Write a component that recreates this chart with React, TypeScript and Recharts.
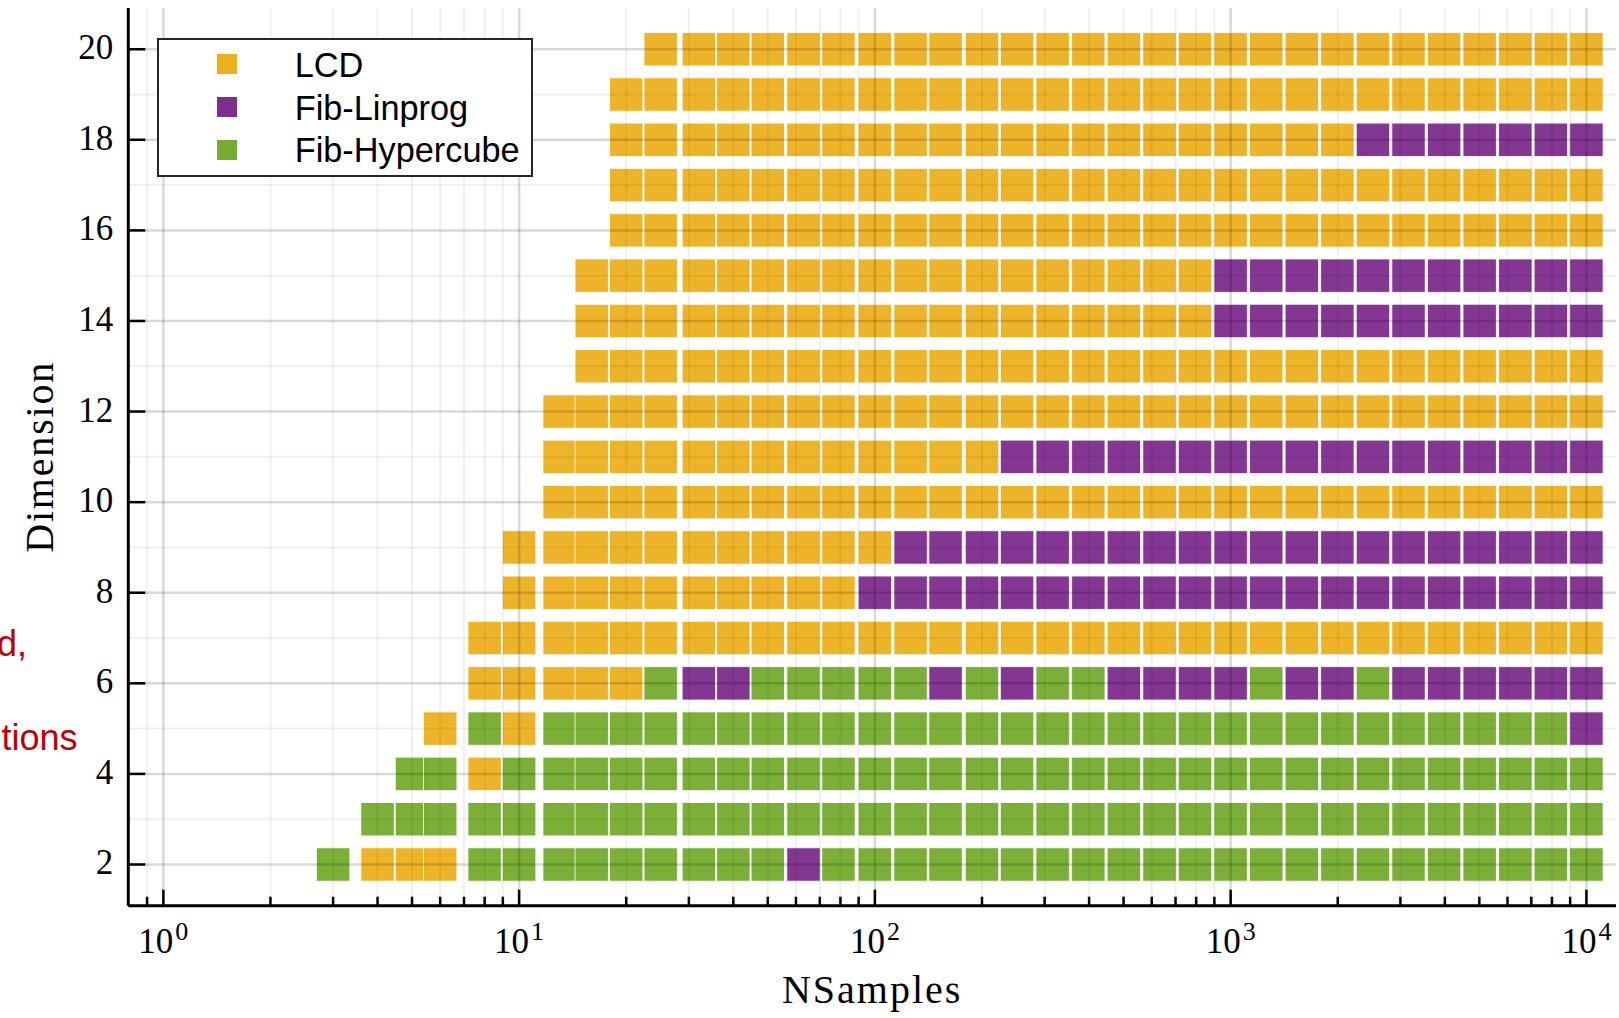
import React from 'react';
import { ScatterChart, Scatter, XAxis, YAxis, ReferenceLine } from 'recharts';

// sample counts on the log axis (rounded 10^(k/10))
const nSamples = [
  3, 4, 5, 6, 8,
  10, 13, 16, 20, 25, 32, 40, 50, 63, 79,
  100, 126, 158, 200, 251, 316, 398, 501, 631, 794,
  1000, 1259, 1585, 1995, 2512, 3162, 3981, 5012, 6310, 7943,
  10000,
];

const dimensions = [2, 3, 4, 5, 6, 7, 8, 9, 10, 11, 12, 13, 14, 15, 16, 17, 18, 19, 20];

// fastest method per (dimension, nSamples): L = LCD, P = Fib-Linprog, H = Fib-Hypercube, . = not run
// groups: <10 | 10..79 | 100..794 | 1000..7943 | 10000
const bestMethod = [
  'HLLLH HHHHHHHHPH HHHHHHHHHH HHHHHHHHHH H', // 2
  '.HHHH HHHHHHHHHH HHHHHHHHHH HHHHHHHHHH H', // 3
  '..HHL HHHHHHHHHH HHHHHHHHHH HHHHHHHHHH H', // 4
  '...LH LHHHHHHHHH HHHHHHHHHH HHHHHHHHHH P', // 5
  '....L LLLLHPPHHH HHPHPHHPPP PHPPHPPPPP P', // 6
  '....L LLLLLLLLLL LLLLLLLLLL LLLLLLLLLL L', // 7
  '..... LLLLLLLLLL PPPPPPPPPP PPPPPPPPPP P', // 8
  '..... LLLLLLLLLL LPPPPPPPPP PPPPPPPPPP P', // 9
  '..... .LLLLLLLLL LLLLLLLLLL LLLLLLLLLL L', // 10
  '..... .LLLLLLLLL LLLLPPPPPP PPPPPPPPPP P', // 11
  '..... .LLLLLLLLL LLLLLLLLLL LLLLLLLLLL L', // 12
  '..... ..LLLLLLLL LLLLLLLLLL LLLLLLLLLL L', // 13
  '..... ..LLLLLLLL LLLLLLLLLL PPPPPPPPPP P', // 14
  '..... ..LLLLLLLL LLLLLLLLLL PPPPPPPPPP P', // 15
  '..... ...LLLLLLL LLLLLLLLLL LLLLLLLLLL L', // 16
  '..... ...LLLLLLL LLLLLLLLLL LLLLLLLLLL L', // 17
  '..... ...LLLLLLL LLLLLLLLLL LLLLPPPPPP P', // 18
  '..... ...LLLLLLL LLLLLLLLLL LLLLLLLLLL L', // 19
  '..... ....LLLLLL LLLLLLLLLL LLLLLLLLLL L', // 20
];

const methods = [
  { key: 'L', name: 'LCD', color: '#EDB120' },
  { key: 'P', name: 'Fib-Linprog', color: '#7E2F8E' },
  { key: 'H', name: 'Fib-Hypercube', color: '#77AC30' },
];

const xMajorTicks = [1, 10, 100, 1000, 10000];
const xMinorTicks = [
  0.9,
  2, 3, 4, 5, 6, 7, 8, 9,
  20, 30, 40, 50, 60, 70, 80, 90,
  200, 300, 400, 500, 600, 700, 800, 900,
  2000, 3000, 4000, 5000, 6000, 7000, 8000, 9000,
];
const yMajorTicks = [2, 4, 6, 8, 10, 12, 14, 16, 18, 20];
const yMinorTicks = [3, 5, 7, 9, 11, 13, 15, 17, 19];

const SERIF = '"Liberation Serif", "Times New Roman", serif';
const SANS = '"Liberation Sans", Arial, sans-serif';
const CELL = 33.4;

const cellsFor = (key: string) =>
  dimensions.flatMap((dim, r) => {
    const row = bestMethod[r].replace(/ /g, '');
    return nSamples.flatMap((n, i) => (row[i] === key ? [{ n, dim }] : []));
  });

const squareMarker = (color: string) => (props: any) => (
  <rect
    x={props.cx - CELL / 2}
    y={props.cy - CELL / 2}
    width={CELL}
    height={CELL}
    fill={color}
    fillOpacity={0.96}
    stroke="#fff"
    strokeWidth={1}
    strokeOpacity={0.8}
  />
);

const XTick = (props: any) => {
  const { x, y, payload } = props;
  const major = xMajorTicks.includes(payload.value);
  return (
    <g>
      <line x1={x} x2={x} y1={y} y2={y - (major ? 16 : 9)} stroke="#000" strokeWidth={2.5} />
      {major && (
        <text x={x} y={y + 47} textAnchor="middle" fontFamily={SERIF} fontSize={35} fill="#000">
          <tspan>10</tspan>
          <tspan dx={2} dy={-12.7} fontSize={26}>
            {Math.round(Math.log10(payload.value))}
          </tspan>
        </text>
      )}
    </g>
  );
};

const YTick = (props: any) => {
  const { x, y, payload } = props;
  return (
    <g>
      <line x1={x} x2={x + 17} y1={y} y2={y} stroke="#000" strokeWidth={2.5} />
      <text x={x - 15} y={y + 10} textAnchor="end" fontFamily={SERIF} fontSize={35} fill="#000">
        {payload.value}
      </text>
    </g>
  );
};

const XTitle = (props: any) => {
  const vb = props.viewBox || { x: 128.3, y: 905.7, width: 1487.7 };
  return (
    <text
      x={vb.x + vb.width / 2}
      y={vb.y + 97}
      textAnchor="middle"
      fontFamily={SERIF}
      fontSize={40}
      style={{ letterSpacing: 2 }}
      fill="#000"
    >
      NSamples
    </text>
  );
};

const YTitle = (props: any) => {
  const vb = props.viewBox || { x: 0, y: 8, height: 897.7 };
  const px = vb.x + 53;
  const py = vb.y + vb.height / 2;
  return (
    <text
      x={px}
      y={py}
      transform={`rotate(-90 ${px} ${py})`}
      textAnchor="middle"
      fontFamily={SERIF}
      fontSize={40}
      style={{ letterSpacing: 1.8 }}
      fill="#000"
    >
      Dimension
    </text>
  );
};

const Legend = () => (
  <div
    style={{
      position: 'absolute',
      left: 157.3,
      top: 38.3,
      width: 376,
      height: 138.4,
      boxSizing: 'border-box',
      border: '2.3px solid #262626',
      background: '#fff',
      fontFamily: SANS,
      fontSize: 34.3,
      color: '#000',
    }}
  >
    {methods.map((m, i) => (
      <div key={m.key} style={{ position: 'absolute', left: 0, top: 4.6 + i * 42.8, height: 40, width: '100%' }}>
        <div
          style={{
            position: 'absolute',
            left: 57.7,
            top: 9.5,
            width: 20,
            height: 20,
            background: m.color,
          }}
        />
        <div style={{ position: 'absolute', left: 135.4, top: 0, lineHeight: '40px', whiteSpace: 'nowrap' }}>
          {m.name}
        </div>
      </div>
    ))}
  </div>
);

export default function App() {
  return (
    <div
      style={{
        position: 'absolute',
        left: 0,
        top: 0,
        width: 1619,
        height: 1018,
        background: '#fff',
        overflow: 'hidden',
      }}
    >
      <ScatterChart width={1619} height={1018} margin={{ top: 8, right: 3, left: 0, bottom: 0 }}>
        <XAxis
          type="number"
          dataKey="n"
          scale="log"
          domain={[0.797, 12110]}
          allowDataOverflow
          ticks={[...xMinorTicks, ...xMajorTicks]}
          interval={0}
          height={112.3}
          tickSize={0}
          tickMargin={0}
          tickLine={false}
          axisLine={{ stroke: '#000', strokeWidth: 3 }}
          tick={<XTick />}
          label={<XTitle />}
        />
        <YAxis
          type="number"
          dataKey="dim"
          domain={[1.09, 20.91]}
          allowDataOverflow
          ticks={yMajorTicks}
          interval={0}
          width={128.3}
          tickSize={0}
          tickMargin={0}
          tickLine={false}
          axisLine={{ stroke: '#000', strokeWidth: 3 }}
          tick={<YTick />}
          label={<YTitle />}
        />
        {methods.map((m) => (
          <Scatter
            key={m.key}
            name={m.name}
            data={cellsFor(m.key)}
            fill={m.color}
            shape={squareMarker(m.color)}
            isAnimationActive={false}
          />
        ))}
        {xMinorTicks.map((v) => (
          <ReferenceLine key={`xm${v}`} x={v} stroke="#000" strokeOpacity={0.06} strokeWidth={2} zIndex={700} />
        ))}
        {yMinorTicks.map((v) => (
          <ReferenceLine key={`ym${v}`} y={v} stroke="#000" strokeOpacity={0.06} strokeWidth={2} zIndex={700} />
        ))}
        {xMajorTicks.map((v) => (
          <ReferenceLine key={`xM${v}`} x={v} stroke="#000" strokeOpacity={0.15} strokeWidth={2.5} zIndex={700} />
        ))}
        {yMajorTicks.map((v) => (
          <ReferenceLine key={`yM${v}`} y={v} stroke="#000" strokeOpacity={0.15} strokeWidth={2.5} zIndex={700} />
        ))}
      </ScatterChart>
      <Legend />
      <svg
        width={130}
        height={1018}
        style={{ position: 'absolute', left: 0, top: 0, pointerEvents: 'none' }}
      >
        <text x={27} y={656} textAnchor="end" fontFamily={SANS} fontSize={36} fill="#c00000">
          d,
        </text>
        <text x={77.5} y={750} textAnchor="end" fontFamily={SANS} fontSize={36} fill="#c00000">
          tions
        </text>
      </svg>
    </div>
  );
}
